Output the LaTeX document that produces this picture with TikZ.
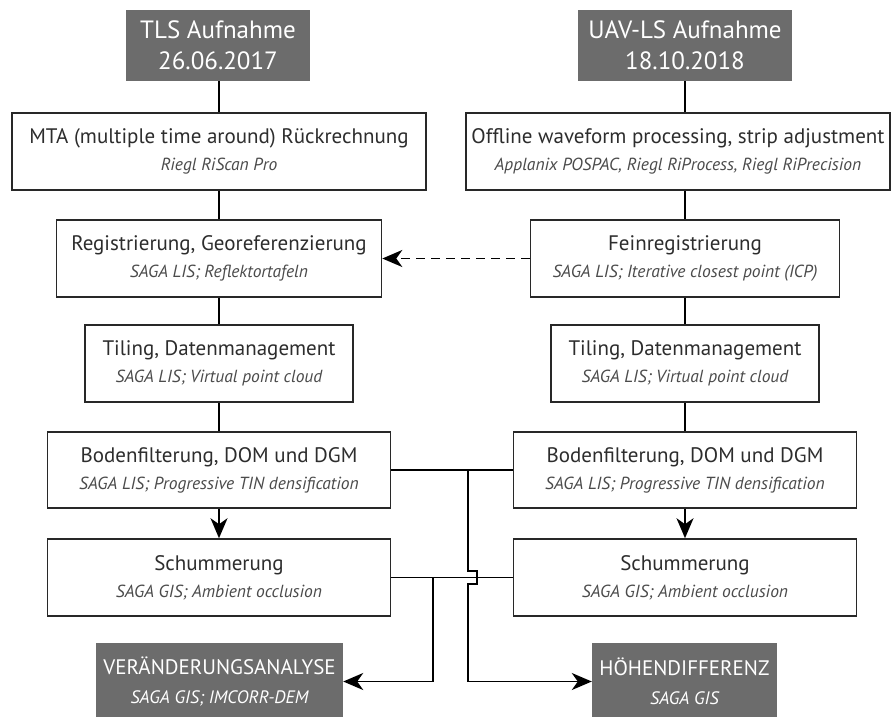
\documentclass[tikz,border=0pt]{standalone}
\usepackage{fontspec}
\setmainfont{PT Sans}
\usetikzlibrary{arrows.meta}
\definecolor{darkbox}{RGB}{108,108,108}
\definecolor{titlecol}{RGB}{45,45,45}
\definecolor{subcol}{RGB}{75,75,75}
\definecolor{edgecol}{RGB}{40,40,40}
\tikzset{
  wbox/.style={draw=edgecol, line width=1.6pt, fill=white, align=center, inner sep=0pt,
    font=\fontsize{21}{27}\selectfont, text=titlecol},
  dbox/.style={fill=darkbox, draw=none, align=center, inner sep=0pt, text=white},
  conn/.style={line width=1.8pt, black},
  arrowtip/.style={-{Stealth[length=20pt,width=17pt,inset=6pt]}},
}
\newcommand{\subt}[1]{{\fontsize{17.5}{27}\selectfont\itshape\color{subcol}#1}}
\begin{document}
\begin{tikzpicture}[x=1pt,y=-1pt]
\useasboundingbox[fill=white] (0,0) rectangle (893,716);
% dark header boxes
\node[dbox, minimum width=184pt, minimum height=71pt, font=\fontsize{25}{31}\selectfont] (tls) at (218,45.5) {TLS Aufnahme\\26.06.2017};
\node[dbox, minimum width=214pt, minimum height=71pt, font=\fontsize{25}{31}\selectfont] (uav) at (685,45.5) {UAV-LS Aufnahme\\18.10.2018};
% left column
\node[wbox, minimum width=414pt, minimum height=77pt] (mta) at (219,151.5) {MTA (multiple time around) Rückrechnung\\\subt{Riegl RiScan Pro}};
\node[wbox, minimum width=325pt, minimum height=77pt] (reg) at (219,258.5) {Registrierung, Georeferenzierung\\\subt{SAGA LIS; Reflektortafeln}};
\node[wbox, minimum width=268pt, minimum height=77pt] (tilL) at (219,363.5) {Tiling, Datenmanagement\\\subt{SAGA LIS; Virtual point cloud}};
\node[wbox, minimum width=343pt, minimum height=76pt] (domL) at (219,470) {Bodenfilterung, DOM und DGM\\\subt{SAGA LIS; Progressive TIN densification}};
\node[wbox, minimum width=343pt, minimum height=77pt] (schL) at (219,577.5) {Schummerung\\\subt{SAGA GIS; Ambient occlusion}};
% right column
\node[wbox, minimum width=424pt, minimum height=77pt] (off) at (678,151.5) {Offline waveform processing, strip adjustment\\\subt{Applanix POSPAC, Riegl RiProcess, Riegl RiPrecision}};
\node[wbox, minimum width=309pt, minimum height=77pt] (fein) at (685,258.5) {Feinregistrierung\\\subt{SAGA LIS; Iterative closest point (ICP)}};
\node[wbox, minimum width=268pt, minimum height=77pt] (tilR) at (685,363.5) {Tiling, Datenmanagement\\\subt{SAGA LIS; Virtual point cloud}};
\node[wbox, minimum width=343pt, minimum height=76pt] (domR) at (685,470) {Bodenfilterung, DOM und DGM\\\subt{SAGA LIS; Progressive TIN densification}};
\node[wbox, minimum width=343pt, minimum height=77pt] (schR) at (685,577.5) {Schummerung\\\subt{SAGA GIS; Ambient occlusion}};
% result boxes
\node[dbox, minimum width=247pt, minimum height=77pt, font=\fontsize{21}{29}\selectfont] (ver) at (219.5,681.5) {VERÄNDERUNGSANALYSE\\{\fontsize{18}{29}\selectfont\itshape SAGA GIS; IMCORR-DEM}};
\node[dbox, minimum width=185pt, minimum height=77pt, font=\fontsize{21}{29}\selectfont] (hoe) at (684.5,681.5) {HÖHENDIFFERENZ\\{\fontsize{18}{29}\selectfont\itshape SAGA GIS}};
% left connectors
\draw[conn] (tls.south -| mta.north) -- (mta.north);
\draw[conn] (mta.south) -- (reg.north);
\draw[conn] (reg.south) -- (tilL.north);
\draw[conn] (tilL.south) -- (domL.north);
\draw[conn,arrowtip] (domL.south) -- (schL.north);
% right connectors
\draw[conn] (uav.south) -- (uav.south |- off.north);
\draw[conn] (uav.south |- off.south) -- (fein.north);
\draw[conn] (fein.south) -- (tilR.north);
\draw[conn] (tilR.south) -- (domR.north);
\draw[conn,arrowtip] (domR.south) -- (schR.north);
% dashed link
\draw[conn,arrowtip,dash pattern=on 9pt off 6pt] (fein.west) -- (reg.east);
% cross links
\draw[conn] (domL.east) -- (domR.west);
\draw[conn] (schL.east) -- (schR.west);
\coordinate (jd) at (468,470);
\coordinate (js) at (433,577.5);
\draw[conn,arrowtip] (js) |- (ver.east);
\draw[conn,arrowtip] (jd) -- (468,571) -- (477,571) -- (477,584) -- (468,584) |- (hoe.west);
\end{tikzpicture}
\end{document}
